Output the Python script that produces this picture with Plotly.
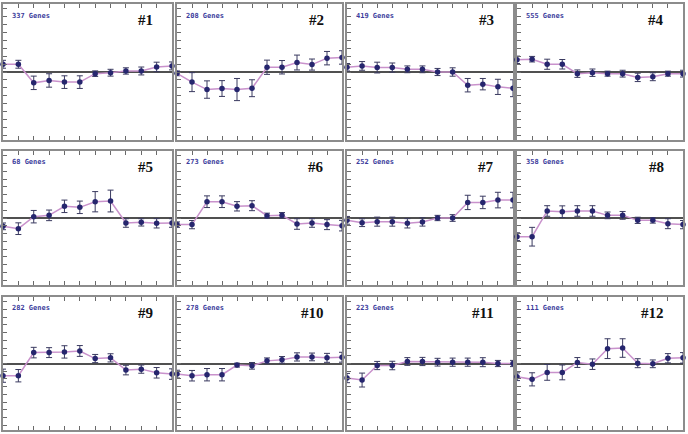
import plotly.graph_objects as go
from plotly.subplots import make_subplots

timepoints = [1, 2, 3, 4, 5, 6, 7, 8, 9, 10, 11, 12]
gene_counts = ["337 Genes", "208 Genes", "419 Genes", "555 Genes",
               "68 Genes", "273 Genes", "252 Genes", "358 Genes",
               "282 Genes", "278 Genes", "223 Genes", "111 Genes"]
panel_labels = ["#1", "#2", "#3", "#4", "#5", "#6", "#7", "#8", "#9", "#10", "#11", "#12"]

v1 = [0.98, 0.98, -1.37, -1.07, -1.28, -1.28, -0.21, -0.09, 0.13, 0.13, 0.64, 0.77]
e1 = [0.5, 0.5, 0.85, 0.85, 0.8, 0.8, 0.35, 0.43, 0.4, 0.5, 0.6, 0.5]
v2 = [-0.17, -1.28, -2.22, -2.09, -2.22, -2.05, 0.6, 0.6, 1.2, 0.94, 1.75, 1.84]
e2 = [0.3, 1.2, 1.1, 1.0, 1.4, 1.07, 0.9, 0.85, 0.94, 0.7, 0.85, 0.85]
v3 = [0.6, 0.77, 0.56, 0.56, 0.34, 0.34, 0.0, 0.0, -1.67, -1.54, -1.88, -2.05]
e3 = [0.47, 0.55, 0.68, 0.58, 0.43, 0.43, 0.45, 0.53, 0.85, 0.72, 0.96, 1.07]
v4 = [1.54, 1.62, 0.98, 0.98, -0.21, -0.09, -0.21, -0.21, -0.68, -0.6, -0.21, -0.21]
e4 = [0.47, 0.35, 0.64, 0.6, 0.47, 0.47, 0.32, 0.43, 0.53, 0.5, 0.32, 0.43]
v5 = [-1.07, -1.37, 0.17, 0.34, 1.5, 1.37, 2.09, 2.18, -0.64, -0.56, -0.68, -0.64]
e5 = [0.43, 0.75, 0.8, 0.68, 0.8, 0.8, 1.3, 1.4, 0.55, 0.47, 0.6, 0.55]
v6 = [-0.85, -0.85, 2.09, 2.09, 1.5, 1.58, 0.3, 0.34, -0.77, -0.64, -0.85, -0.98]
e6 = [0.35, 0.53, 0.75, 0.75, 0.6, 0.64, 0.32, 0.36, 0.68, 0.55, 0.64, 0.68]
v7 = [-0.3, -0.6, -0.47, -0.47, -0.68, -0.51, 0.0, 0.0, 2.0, 2.0, 2.3, 2.3]
e7 = [0.5, 0.5, 0.58, 0.58, 0.6, 0.53, 0.34, 0.43, 0.92, 0.8, 1.0, 1.0]
v8 = [-2.4, -2.4, 0.9, 0.81, 0.9, 0.9, 0.34, 0.34, -0.3, -0.3, -0.73, -0.85]
e8 = [0.5, 1.2, 0.68, 0.75, 0.68, 0.68, 0.43, 0.5, 0.4, 0.36, 0.64, 0.53]
v9 = [-1.58, -1.58, 1.41, 1.41, 1.5, 1.62, 0.64, 0.73, -0.85, -0.73, -1.2, -1.37]
e9 = [0.85, 0.8, 0.68, 0.64, 0.8, 0.7, 0.53, 0.53, 0.62, 0.53, 0.68, 0.68]
v10 = [-1.37, -1.58, -1.45, -1.45, -0.21, -0.3, 0.34, 0.47, 0.85, 0.85, 0.73, 0.81]
e10 = [0.5, 0.68, 0.8, 0.8, 0.25, 0.43, 0.38, 0.43, 0.53, 0.5, 0.58, 0.64]
v11 = [-1.88, -2.14, -0.26, -0.26, 0.26, 0.26, 0.17, 0.17, 0.17, 0.17, 0.0, 0.0]
e11 = [0.6, 0.9, 0.53, 0.55, 0.5, 0.53, 0.5, 0.53, 0.53, 0.58, 0.4, 0.4]
v12 = [-1.71, -2.05, -1.15, -1.15, 0.13, -0.09, 1.92, 2.0, 0.04, -0.04, 0.68, 0.73]
e12 = [0.5, 0.85, 1.02, 0.96, 0.64, 0.68, 1.28, 1.2, 0.58, 0.5, 0.6, 0.68]

values = [v1, v2, v3, v4, v5, v6, v7, v8, v9, v10, v11, v12]
errors = [e1, e2, e3, e4, e5, e6, e7, e8, e9, e10, e11, e12]

W, H = 688, 434
col_px = [(3, 172), (177, 342), (347, 513), (517, 683)]
row_px = [(4, 140), (151, 285), (297, 430)]

fig = make_subplots(rows=3, cols=4)

for i in range(12):
    r, c = i // 4 + 1, i % 4 + 1
    fig.add_trace(go.Scatter(
        x=timepoints, y=values[i], mode="lines+markers",
        line=dict(color="#c992cc", width=1.5),
        marker=dict(color="#26266e", size=5.5),
        error_y=dict(type="data", array=errors[i], visible=True,
                     color="#3a3a60", thickness=1, width=3),
        cliponaxis=False, showlegend=False, hoverinfo="skip"),
        row=r, col=c)

for i in range(12):
    r, c = i // 4, i % 4
    xa = "xaxis" if i == 0 else f"xaxis{i+1}"
    ya = "yaxis" if i == 0 else f"yaxis{i+1}"
    x0, x1 = col_px[c]
    y0, y1 = row_px[r]
    fig.layout[xa].update(
        domain=[x0 / W, x1 / W], range=[1, 12], showgrid=False, zeroline=False,
        showline=True, linecolor="#8c8c8c", linewidth=1.5, mirror="ticks",
        ticks="inside", ticklen=4, tickcolor="#6a6a6a", tickwidth=1,
        tickvals=timepoints, showticklabels=False)
    fig.layout[ya].update(
        domain=[1 - y1 / H, 1 - y0 / H], range=[-8.6, 8.6], showgrid=False,
        zeroline=True, zerolinecolor="#505050", zerolinewidth=1.5,
        showline=True, linecolor="#8c8c8c", linewidth=1.5, mirror=True,
        ticks="inside", ticklen=4, tickcolor="#6a6a6a", tickwidth=1,
        dtick=1, tick0=0, showticklabels=False)
    axn = "" if i == 0 else str(i + 1)
    fig.add_annotation(
        xref=f"x{axn} domain", yref=f"y{axn} domain", x=0.04, y=0.915,
        xanchor="left", yanchor="middle", showarrow=False,
        text=f"<b>{gene_counts[i]}</b>",
        font=dict(family="DejaVu Sans Mono", size=7, color="#3c3c9c"))
    fig.add_annotation(
        xref=f"x{axn} domain", yref=f"y{axn} domain", x=0.9, y=0.88,
        xanchor="right", yanchor="middle", showarrow=False,
        text=f"<b>{panel_labels[i]}</b>",
        font=dict(family="Liberation Serif", size=15, color="#111111"))

fig.update_layout(
    width=W, height=H, margin=dict(l=0, r=0, t=0, b=0),
    paper_bgcolor="white", plot_bgcolor="white")

fig.write_html("out.html", config={"displayModeBar": False},
               post_script="document.body.style.margin='0';document.body.style.padding='0';")
